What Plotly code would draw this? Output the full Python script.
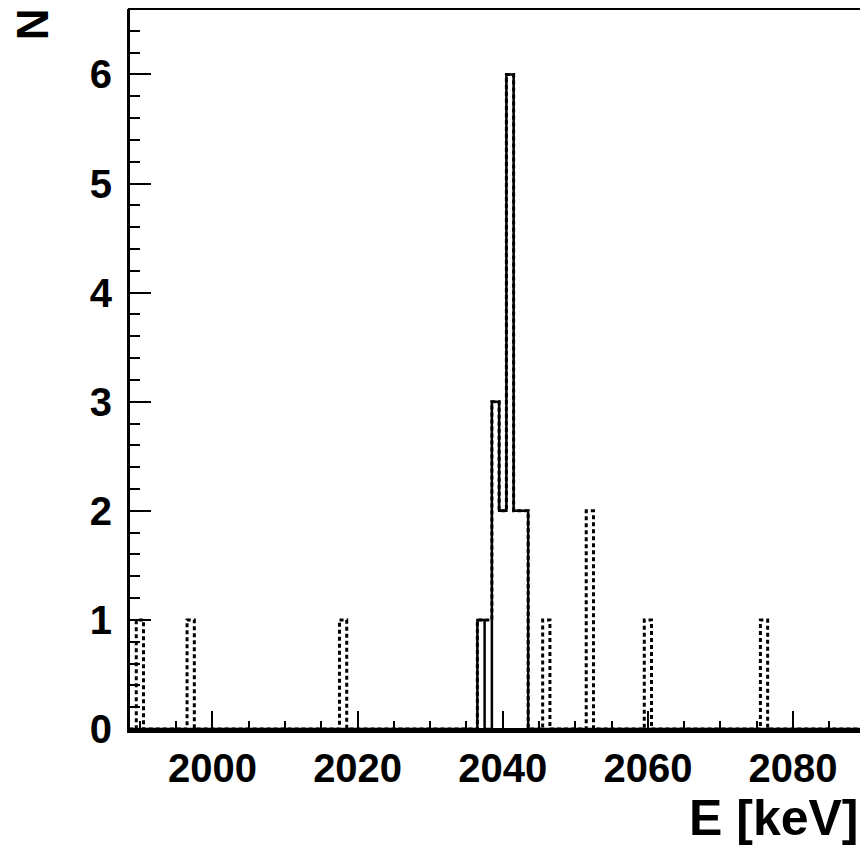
import numpy as np
import plotly.graph_objects as go

# Histogram data (1 keV bins, centred on integer energies)
x_min, x_max = 1988.5, 2089.5
solid_E = [2037, 2039, 2040, 2041, 2042, 2043]
solid_N = [1, 3, 2, 6, 2, 2]
dashed_E = [1990, 1997, 2018, 2037, 2038, 2039, 2040, 2041, 2042, 2043, 2046, 2052, 2060, 2076]
dashed_N = [1, 1, 1, 1, 1, 3, 2, 6, 2, 2, 1, 2, 1, 1]

x_ticks = [2000, 2020, 2040, 2060, 2080]
y_ticks = [0, 1, 2, 3, 4, 5, 6]


def steps(energies, counts):
    edges = np.arange(x_min, x_max + 0.5, 1.0)
    centers = edges[:-1] + 0.5
    full = np.zeros(len(centers))
    for e, n in zip(energies, counts):
        full[np.argmin(np.abs(centers - e))] = n
    return edges, np.append(full, full[-1])


fig = go.Figure()
ex, ey = steps(dashed_E, dashed_N)
fig.add_trace(go.Scatter(x=ex, y=ey, mode="lines", line_shape="hv",
                         line=dict(color="black", width=3, dash="4px,3px"),
                         showlegend=False, hoverinfo="skip"))
sx, sy = steps(solid_E, solid_N)
fig.add_trace(go.Scatter(x=sx, y=sy, mode="lines", line_shape="hv",
                         line=dict(color="black", width=2.5),
                         showlegend=False, hoverinfo="skip"))

font_fam = "Liberation Sans, Arial, sans-serif"

fig.update_layout(
    width=860, height=840,
    margin=dict(l=121, r=6, t=1, b=119),
    paper_bgcolor="white", plot_bgcolor="white",
    font=dict(family=font_fam, color="black", size=40, weight="bold"),
    xaxis=dict(range=[x_min, x_max], tickvals=x_ticks, ticks="inside",
               ticklen=18, tickwidth=2, tickcolor="black",
               showline=True, linewidth=4, linecolor="black",
               showgrid=False, zeroline=False,
               tickfont=dict(size=40, family=font_fam, weight="bold"),
               ticklabelstandoff=1,
               minor=dict(dtick=5, tick0=2000, ticks="inside", ticklen=8,
                          tickwidth=2, tickcolor="black", showgrid=False)),
    yaxis=dict(range=[0, 6.6], tickvals=y_ticks, ticks="inside",
               ticklen=22, tickwidth=2, tickcolor="black",
               showline=True, linewidth=2, linecolor="black",
               showgrid=False, zeroline=False,
               tickfont=dict(size=40, family=font_fam, weight="bold"),
               ticklabelstandoff=7,
               minor=dict(dtick=0.2, tick0=0, ticks="inside", ticklen=11,
                          tickwidth=2, tickcolor="black", showgrid=False)),
    shapes=[dict(type="rect", xref="paper", yref="paper", x0=0, x1=1, y0=0, y1=1,
                 line=dict(color="black", width=2), layer="above")],
    annotations=[
        dict(text="E [keV]", xref="paper", yref="paper", x=0.998, y=-0.124,
             xanchor="right", yanchor="middle", showarrow=False,
             font=dict(size=50, family=font_fam, weight="bold")),
        dict(text="N", xref="paper", yref="paper", x=-0.1323, y=0.979,
             xanchor="center", yanchor="middle", showarrow=False, textangle=-90,
             font=dict(size=44, family=font_fam, weight="bold")),
    ],
)

fig.write_html("out.html")
